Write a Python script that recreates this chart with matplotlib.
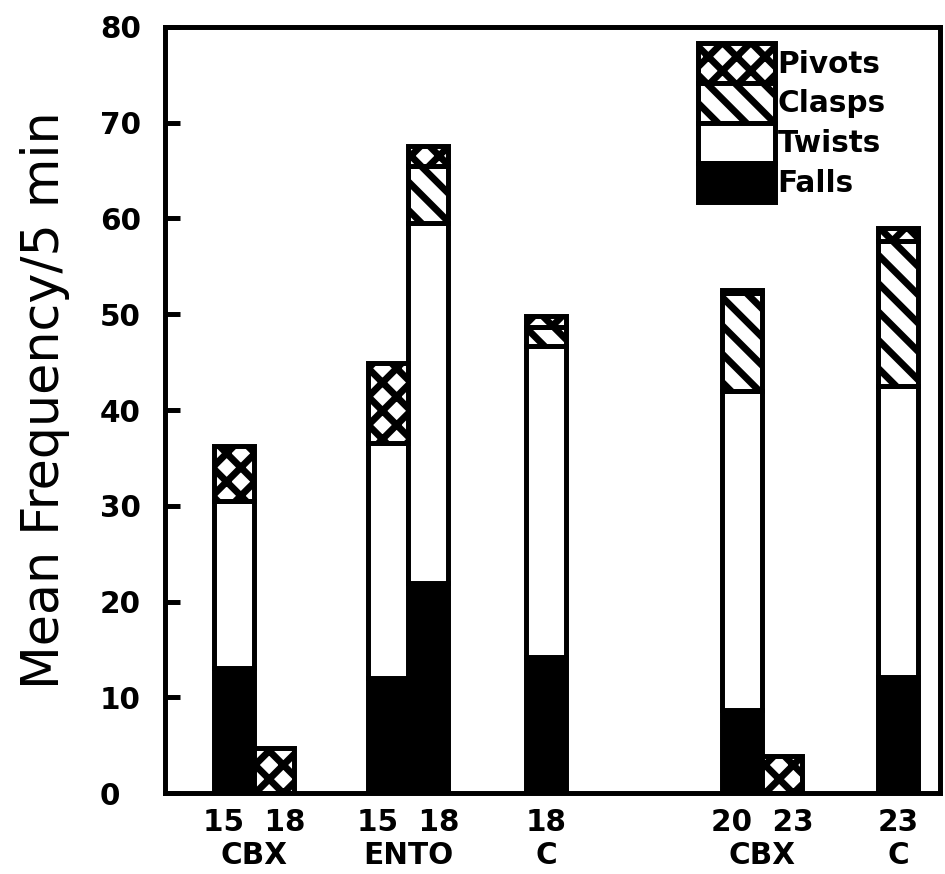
import numpy as np
import matplotlib.pyplot as plt

plt.rcParams['font.family'] = 'DejaVu Sans'
plt.rcParams['hatch.linewidth'] = 2.9

# age (days) and treatment of each bar
dose = ['15', '18', '15', '18', '18', '20', '23', '23']
group = ['CBX', 'CBX', 'ENTO', 'ENTO', 'C', 'CBX', 'CBX', 'C']

# mean frequency per 5 min, stacked bottom to top
falls = [13.1, 0, 12.0, 21.9, 14.2, 8.7, 0, 12.1]
twists = [17.4, 0, 24.6, 37.6, 32.5, 33.3, 0, 30.4]
clasps = [0, 0, 0, 6.0, 2.0, 10.2, 0, 15.1]
pivots = [5.7, 4.7, 8.3, 2.1, 1.1, 0.3, 3.9, 1.4]

xpos = np.array([0, 1, 3.85, 4.85, 7.8, 12.7, 13.7, 16.6])

fig = plt.figure(figsize=(945 / 170, 874 / 170), dpi=170)
ax = fig.add_axes([165 / 945, 1 - 793 / 874, (940 - 165) / 945, (793 - 27) / 874])

layers = [
    (falls, 'Falls', 'black', None),
    (twists, 'Twists', 'white', None),
    (clasps, 'Clasps', 'white', '\\\\'),
    (pivots, 'Pivots', 'white', 'xx'),
]
bottom = np.zeros(len(xpos))
handles = []
for vals, name, fc, hatch in layers:
    bars = ax.bar(xpos, vals, width=1.0, bottom=bottom, color=fc,
                  edgecolor='black', linewidth=2.1, hatch=hatch, label=name)
    handles.append(bars)
    bottom += np.array(vals)

ax.set_xlim(-1.725, 17.65)
ax.set_ylim(0, 80)
ax.set_yticks(range(0, 81, 10))
for sp in ax.spines.values():
    sp.set_linewidth(2.1)

ax.tick_params(axis='y', direction='in', length=6.4, width=2.1, pad=27.5,
               labelsize=12.5)
for lab in ax.get_yticklabels():
    lab.set_horizontalalignment('left')
    lab.set_fontweight('bold')

# one label per treatment group: doses on top, group name below
centers, labels = [], []
i = 0
while i < len(group):
    j = i
    while j + 1 < len(group) and group[j + 1] == group[i]:
        j += 1
    centers.append(xpos[i:j + 1].mean())
    labels.append('  '.join(dose[i:j + 1]) + '\n' + group[i])
    i = j + 1
ax.set_xticks(centers, labels)
ax.tick_params(axis='x', length=0, pad=6.5, labelsize=12.5)
for lab in ax.get_xticklabels():
    lab.set_fontweight('bold')
    lab.set_linespacing(1.15)

fig.text(45 / 945, 1 - 400 / 874, 'Mean Frequency/5 min', rotation=90,
         ha='center', va='center', fontsize=21.5)

ax.legend(handles[::-1], [h.get_label() for h in handles[::-1]],
          loc='upper left', bbox_to_anchor=(698 / 945, 1 - 43 / 874),
          bbox_transform=fig.transFigure, frameon=False, borderpad=0,
          borderaxespad=0, labelspacing=0, handlelength=2.6,
          handleheight=1.7, handletextpad=0.1,
          prop={'size': 12.5, 'weight': 'bold'})

fig.savefig('out.png', dpi=170)
